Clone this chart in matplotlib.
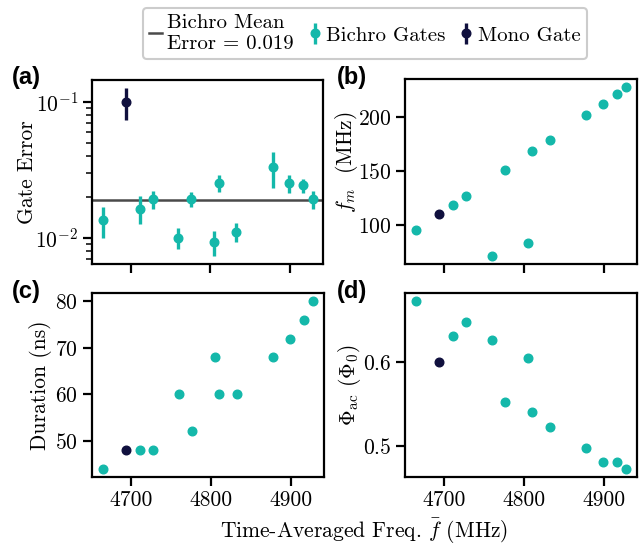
import matplotlib
matplotlib.use("Agg")
import matplotlib.pyplot as plt
import numpy as np

plt.rcParams.update({
    "font.family": "serif",
    "font.serif": ["cmr10"],
    "mathtext.fontset": "cm",
    "axes.formatter.use_mathtext": True,
    "axes.unicode_minus": False,
    "font.size": 15.5,
})

# Bichro gates
freq_b = [4663.9, 4711.3, 4727.3, 4759.6, 4775.6, 4805.0, 4810.5, 4832.4, 4878.2, 4899.6, 4916.9, 4928.6]
err_b = [0.0134, 0.0164, 0.0194, 0.0100, 0.0194, 0.00935, 0.0255, 0.0111, 0.0333, 0.0255, 0.0243, 0.0194]
err_b_hi = [0.0167, 0.0202, 0.0222, 0.0118, 0.0218, 0.0112, 0.0292, 0.0128, 0.0428, 0.0292, 0.0273, 0.0220]
err_b_lo = [0.0099, 0.0126, 0.0162, 0.00826, 0.0169, 0.00738, 0.0217, 0.00924, 0.0233, 0.0212, 0.0212, 0.0164]
fm_b = [95.4, 118.8, 127.1, 72.0, 151.1, 83.4, 168.3, 179.1, 201.8, 212.3, 221.5, 227.4]
dur_b = [44, 48, 48, 60, 52, 68, 60, 60, 68, 72, 76, 80]
phi_b = [0.6723, 0.6312, 0.6482, 0.6261, 0.5526, 0.6051, 0.5399, 0.5221, 0.4972, 0.4802, 0.4802, 0.4727]

# Mono gate
freq_m = [4693.7]
err_m = [0.100]
err_m_hi = [0.126]
err_m_lo = [0.0738]
fm_m = [110.8]
dur_m = [48]
phi_m = [0.600]

mean_err = 0.019

teal = "#14b8aa"
navy = "#10103e"

fig = plt.figure(figsize=(6.44, 5.46), dpi=100)
W, H = 644, 546
def ax_at(l, r, t, b):
    return fig.add_axes([l / W, 1 - b / H, (r - l) / W, (b - t) / H])

axa = ax_at(92, 323, 80, 264)
axb = ax_at(405, 637, 79, 264)
axc = ax_at(92, 324, 293, 477)
axd = ax_at(405, 637, 293, 477)

ms = 6.2
# (a)
eb = np.array([np.array(err_b) - np.array(err_b_lo), np.array(err_b_hi) - np.array(err_b)])
em = np.array([np.array(err_m) - np.array(err_m_lo), np.array(err_m_hi) - np.array(err_m)])
hmean = axa.axhline(mean_err, color="#4a4a4a", lw=1.8)
hb = axa.errorbar(freq_b, err_b, yerr=eb, fmt="o", color=teal, ms=ms, elinewidth=2.4, capsize=0)
hm = axa.errorbar(freq_m, err_m, yerr=em, fmt="o", color=navy, ms=ms, elinewidth=2.4, capsize=0)
axa.set_yscale("log")
axa.set_ylabel("Gate Error")
axa.yaxis.set_label_coords(-0.24, 0.5)

# (b)
axb.plot(freq_b, fm_b, "o", color=teal, ms=ms)
axb.plot(freq_m, fm_m, "o", color=navy, ms=ms)
axb.set_ylabel(r"$f_m$  (MHz)")
axb.set_yticks([100, 150, 200])
axb.yaxis.set_label_coords(-0.195, 0.55)

# (c)
axc.plot(freq_b, dur_b, "o", color=teal, ms=ms)
axc.plot(freq_m, dur_m, "o", color=navy, ms=ms)
axc.set_ylabel("Duration (ns)")
axc.set_yticks([50, 60, 70, 80])
axc.yaxis.set_label_coords(-0.172, 0.5)

# (d)
axd.plot(freq_b, phi_b, "o", color=teal, ms=ms)
axd.plot(freq_m, phi_m, "o", color=navy, ms=ms)
axd.set_ylabel(r"$\Phi_{\rm ac}$ $(\Phi_0)$")
axd.set_yticks([0.5, 0.6])
axd.yaxis.set_label_coords(-0.18, 0.5)

for ax in (axa, axb, axc, axd):
    ax.set_xticks([4700, 4800, 4900])
    ax.tick_params(which="major", direction="out", length=6.5, width=1.6, pad=3.5)
    ax.tick_params(which="minor", direction="out", length=4, width=1.1)
    for s in ax.spines.values():
        s.set_linewidth(1.6)
for ax in (axa, axb):
    ax.set_xticklabels([])
axc.set_xticklabels(["4700", "4800", "4900"])
axd.set_xticklabels(["4700", "4800", "4900"])

for ax, lab, x, y in [(axa, "(a)", 12, 84), (axb, "(b)", 337, 84), (axc, "(c)", 12, 298), (axd, "(d)", 337, 298)]:
    fig.text(x / W, 1 - y / H, lab, family="Liberation Sans", weight="bold", fontsize=17, va="baseline")

fig.text(364 / W, 1 - 538 / H, r"Time-Averaged Freq. $\bar{f}$ (MHz)", ha="center", va="baseline", fontsize=15.5)

leg = fig.legend([hmean, hb, hm], ["Bichro Mean\nError = 0.019", "Bichro Gates", "Mono Gate"],
                 loc="upper center", bbox_to_anchor=(365 / W, 1 - 8 / H), ncol=3, fontsize=15,
                 handlelength=0.6, handletextpad=0.25, columnspacing=0.7, borderpad=0.3,
                 borderaxespad=0, labelspacing=0.2, fancybox=True, framealpha=1, edgecolor="#cccccc")
leg.get_frame().set_linewidth(1.5)

fig.savefig("out.png", dpi=100)
